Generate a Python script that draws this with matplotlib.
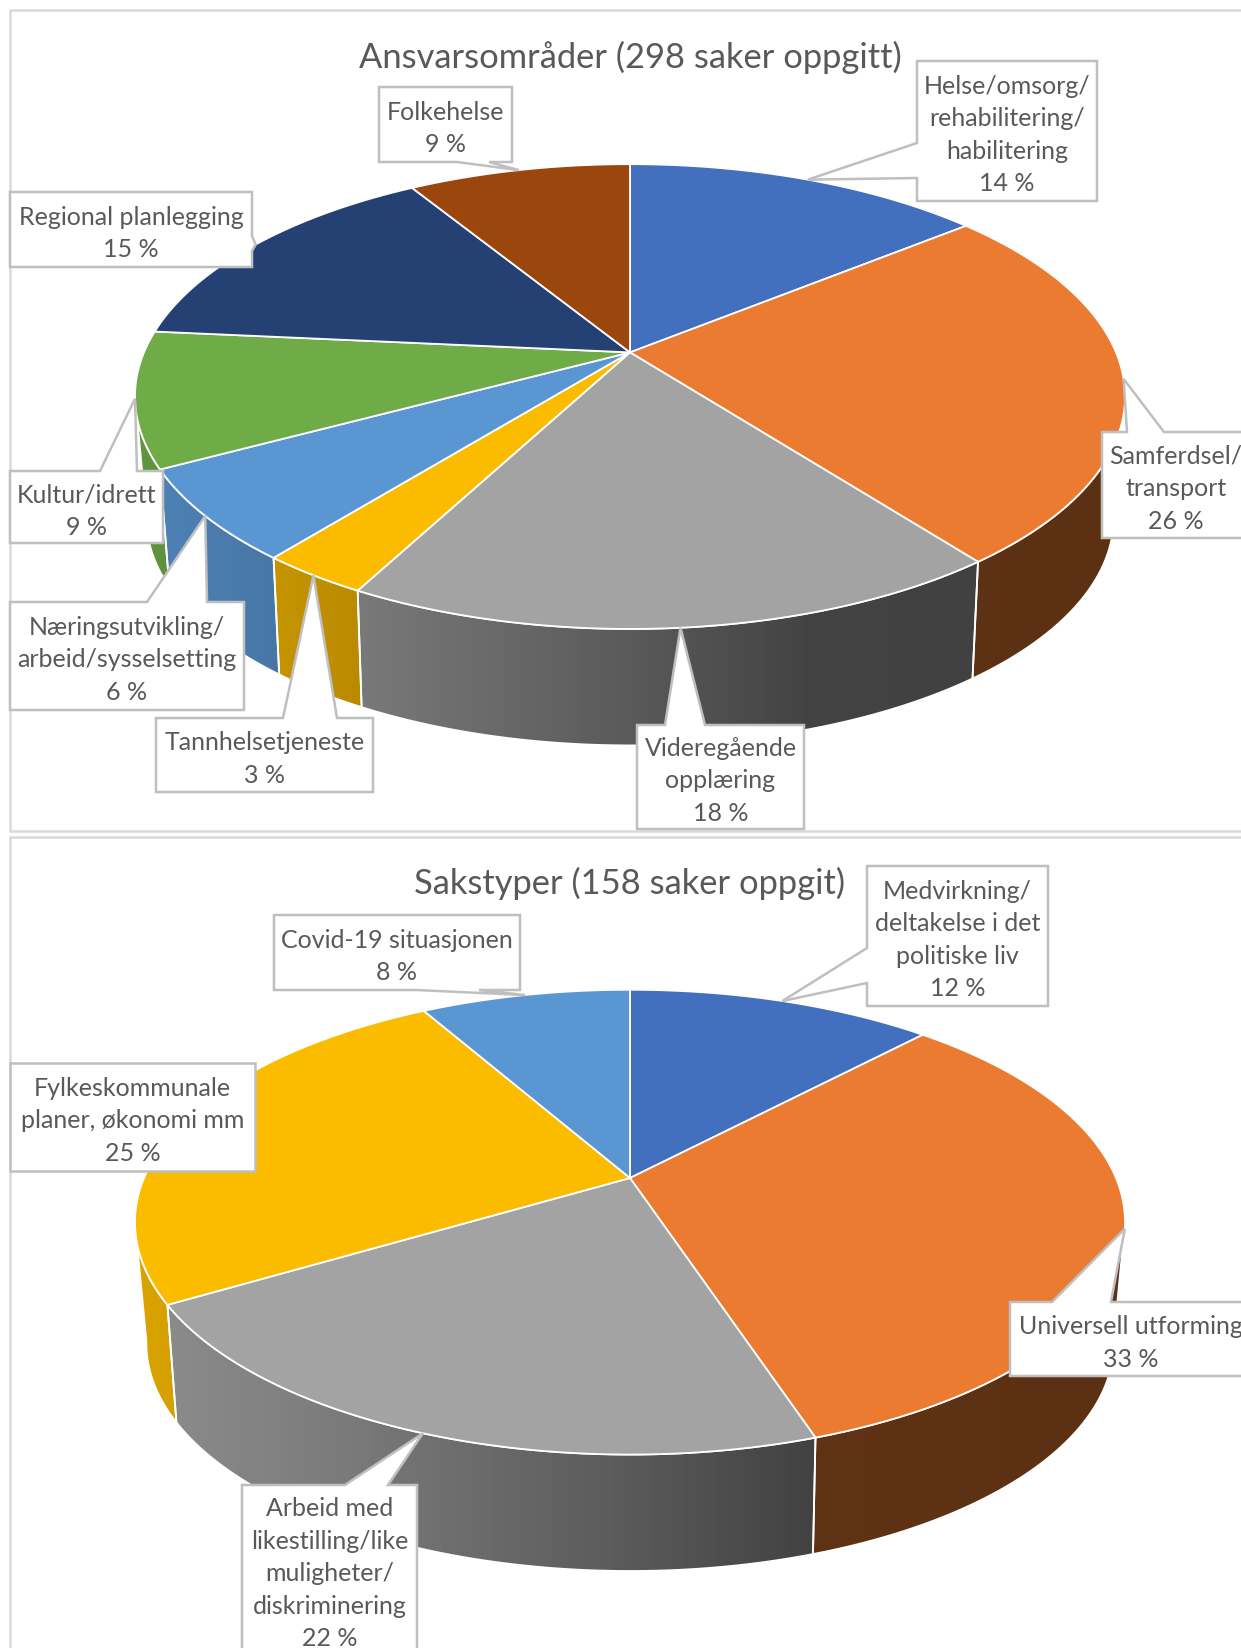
# -*- coding: utf-8 -*-
"""
To kakediagram i 3D-stil (Excel): ansvarsomraader og sakstyper
"""

import numpy as np
import matplotlib.pyplot as plt
from matplotlib.colors import to_rgb
from matplotlib.patches import Polygon, Rectangle

plt.rcParams['font.family'] = ['Lato', 'DejaVu Sans']

# Data: antall saker lest av sektorvinklene (sum = tallet i tittelen)
titler = ['Ansvarsområder (298 saker oppgitt)', 'Sakstyper (158 saker oppgit)']

ansvar_navn = ['Helse/omsorg/\nrehabilitering/\nhabilitering', 'Samferdsel/\ntransport',
               'Videregående\nopplæring', 'Tannhelsetjeneste',
               'Næringsutvikling/\narbeid/sysselsetting', 'Kultur/idrett',
               'Regional planlegging', 'Folkehelse']
ansvar_saker = [42, 76, 54, 9, 19, 28, 44, 26]

sak_navn = ['Medvirkning/\ndeltakelse i det\npolitiske liv', 'Universell utforming',
            'Arbeid med\nlikestilling/like\nmuligheter/\ndiskriminering',
            'Fylkeskommunale\nplaner, økonomi mm', 'Covid-19 situasjonen']
sak_saker = [19, 52, 34, 40, 13]

farger_1 = ['#426FBE', '#EA7B31', '#A3A3A3', '#FBBC00', '#5A97D2', '#6FAB47', '#254174', '#9A460C']
farger_2 = ['#426FBE', '#EA7B31', '#A3A3A3', '#FBBC00', '#5A97D2']

# Oppsett i piksler: boks (x0, y0, x1, y1), side for pekeren, pekerens to basispunkt
bokser_1 = [
    ((917, 62, 1097, 202), 'left', 144, 179),
    ((1102, 433, 1250, 539), 'top', 1127, 1164),
    ((637, 726, 804, 830), 'top', 665, 705),
    ((156, 719, 373, 793), 'top', 283, 337),
    ((10, 603, 244, 711), 'top', 147, 207),
    ((10, 472, 163, 544), 'top', 100, 137),
    ((10, 193, 252, 268), 'right', 237, 252),
    ((379, 88, 512, 163), 'bottom', 489, 457),
]
bokser_2 = [
    ((867, 867, 1048, 1007), 'left', 949, 984),
    ((1010, 1303, 1252, 1377), 'top', 1052, 1111),
    ((242, 1486, 417, 1656), 'top', 345, 388),
    ((10, 1064, 255, 1172), None, 0, 0),
    ((274, 916, 520, 991), 'bottom', 479, 416),
]

R, S, K = 486.0, 224.0, 0.19      # radius, hoeyde og perspektiv for toppflaten
K_BUNN = 0.2                      # bunnflaten ligger litt sterkere i perspektiv
DYBDE, SKALA = 120.0, 0.975       # forskyvning og skala for bunnflaten
LINJE = '#BFBFBF'
TEKST = '#595959'

# Sideveggen synes bare mellom ytterpunktene paa ellipsen
T_MIN = np.arccos(-K)
T_MAX = 2 * np.pi - T_MIN


def projiser(t, cx, cy, dybde=0.0, skala=1.0, k=K):
    # t = vinkel med klokka fra toppen, gir pikselposisjon paa sirkelen
    u, v = np.sin(t), np.cos(t)
    w = 1 + k * v
    return cx + skala * R * u / w, cy + dybde - skala * S * v / w


def lys_faktor(x):
    # Sideveggen er lysest til venstre og moerkest til hoeyre
    return np.interp(x, [137, 358, 631, 810, 1125], [0.87, 0.74, 0.55, 0.41, 0.39])


def boks_med_peker(boks, side, a, b, tip):
    x0, y0, x1, y1 = boks
    if side == 'top':
        return [(x0, y0), (a, y0), tip, (b, y0), (x1, y0), (x1, y1), (x0, y1)]
    if side == 'right':
        return [(x0, y0), (x1, y0), (x1, a), tip, (x1, b), (x1, y1), (x0, y1)]
    if side == 'bottom':
        return [(x0, y0), (x1, y0), (x1, y1), (a, y1), tip, (b, y1), (x0, y1)]
    if side == 'left':
        return [(x0, y0), (x1, y0), (x1, y1), (x0, y1), (x0, b), tip, (x0, a)]
    return [(x0, y0), (x1, y0), (x1, y1), (x0, y1)]


def tegn_kake(ax, saker, navn, farger, bokser, tittel, cx, cy, tittel_y):
    saker = np.array(saker, dtype=float)
    grenser = np.concatenate([[0], np.cumsum(saker) / saker.sum()]) * 2 * np.pi
    vinkler = [np.linspace(a, b, 160) for a, b in zip(grenser[:-1], grenser[1:])]

    # Sidevegger, kun den synlige delen av hver sektor
    for i in range(len(saker)):
        t0, t1 = max(grenser[i], T_MIN), min(grenser[i + 1], T_MAX)
        if t1 <= t0:
            continue
        t = np.linspace(t0, t1, 160)
        xt, yt = projiser(t, cx, cy)
        xb, yb = projiser(t, cx, cy, DYBDE, SKALA, K_BUNN)
        pkt = np.vstack([np.column_stack([xt, yt]), np.column_stack([xb, yb])[::-1]])
        x0, x1 = pkt[:, 0].min(), pkt[:, 0].max()
        y0, y1 = pkt[:, 1].min(), pkt[:, 1].max()
        xs = np.linspace(x0, x1, 64)
        bilde = np.array(to_rgb(farger[i]))[None, None, :] * lys_faktor(xs)[None, :, None]
        im = ax.imshow(bilde, extent=[x0, x1, y1, y0], aspect='auto', zorder=2)
        vegg = Polygon(pkt, closed=True, facecolor='none', edgecolor='white', linewidth=1.3, zorder=2.1)
        ax.add_patch(vegg)
        im.set_clip_path(vegg)

    # Toppflaten
    for i in range(len(saker)):
        xt, yt = projiser(vinkler[i], cx, cy)
        pkt = np.vstack([[cx, cy], np.column_stack([xt, yt])])
        ax.add_patch(Polygon(pkt, closed=True, facecolor=farger[i], edgecolor='white',
                             linewidth=1.3, zorder=3))

    # Etiketter med peker mot midten av sektoren
    for i in range(len(saker)):
        boks, side, a, b = bokser[i]
        midt = (grenser[i] + grenser[i + 1]) / 2
        tip = projiser(midt, cx, cy)
        ax.add_patch(Polygon(boks_med_peker(boks, side, a, b, tip), closed=True, facecolor='white',
                             edgecolor=LINJE, linewidth=1.8, joinstyle='miter', zorder=4))
        prosent = round(100 * saker[i] / saker.sum())
        ax.text((boks[0] + boks[2]) / 2, (boks[1] + boks[3]) / 2 + 3, '%s\n%d %%' % (navn[i], prosent),
                ha='center', va='center', ma='center', fontsize=18, color=TEKST,
                linespacing=1.5, zorder=5)

    ax.text(cx, tittel_y, tittel, ha='center', va='center', fontsize=24.8, color=TEKST, zorder=5)


fig = plt.figure(figsize=(12.41, 16.49), dpi=100)
ax = fig.add_axes([0, 0, 1, 1])

# Rammer rundt de to diagrammene
ax.add_patch(Rectangle((10, 11), 1300, 821, facecolor='white', edgecolor='#D9D9D9', linewidth=1.8))
ax.add_patch(Rectangle((10, 838), 1300, 900, facecolor='white', edgecolor='#D9D9D9', linewidth=1.8))

tegn_kake(ax, ansvar_saker, ansvar_navn, farger_1, bokser_1, titler[0], 630, 353.4, 57)
tegn_kake(ax, sak_saker, sak_navn, farger_2, bokser_2, titler[1], 630, 1179, 883)

ax.set_xlim(0, 1241)
ax.set_ylim(1649, 0)
ax.axis('off')

fig.savefig('out.png', dpi=100, facecolor='white')
